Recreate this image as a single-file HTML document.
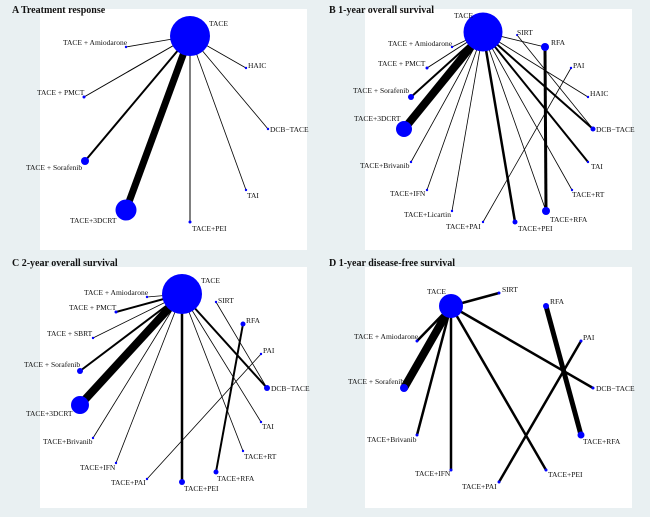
<!DOCTYPE html>
<html><head><meta charset="utf-8"><style>
html,body{margin:0;padding:0;background:#e9f0f2;}
svg{display:block}
text{font-family:"Liberation Serif",serif;font-size:7.5px;fill:#111}
.t{font-size:10px;font-weight:bold}
line{stroke:#000}
circle{fill:#0000ff}
</style></head><body>
<svg width="650" height="517" viewBox="0 0 650 517">
<rect width="650" height="517" fill="#e9f0f2"/>
<rect x="40" y="9" width="267" height="241" fill="#fff"/>
<rect x="365" y="9" width="267" height="241" fill="#fff"/>
<rect x="40" y="267" width="267" height="241" fill="#fff"/>
<rect x="365" y="267" width="267" height="241" fill="#fff"/>
<text class="t" x="12" y="13">A Treatment  response</text>
<text class="t" x="329" y="13">B 1-year overall survival</text>
<text class="t" x="12" y="266">C 2-year overall survival</text>
<text class="t" x="329" y="266">D 1-year disease-free survival</text>

<!-- A -->
<g>
<line x1="190" y1="36" x2="126" y2="47" stroke-width="0.8"/>
<line x1="190" y1="36" x2="84" y2="97" stroke-width="1"/>
<line x1="190" y1="36" x2="85" y2="161" stroke-width="2"/>
<line x1="190" y1="36" x2="126" y2="210" stroke-width="7"/>
<line x1="190" y1="36" x2="190" y2="222" stroke-width="1"/>
<line x1="190" y1="36" x2="246" y2="190" stroke-width="0.8"/>
<line x1="190" y1="36" x2="268" y2="129" stroke-width="0.8"/>
<line x1="190" y1="36" x2="246" y2="68" stroke-width="0.8"/>
<circle cx="190" cy="36" r="20"/>
<circle cx="126" cy="47" r="1.2"/><circle cx="84" cy="97" r="1.5"/>
<circle cx="85" cy="161" r="4"/><circle cx="126" cy="210" r="10.5"/>
<circle cx="190" cy="222" r="1.5"/><circle cx="246" cy="190" r="1.2"/>
<circle cx="268" cy="129" r="1.2"/><circle cx="246" cy="68" r="1.2"/>
<text x="209" y="26">TACE</text>
<text x="63" y="45">TACE + Amiodarone</text>
<text x="37" y="95">TACE + PMCT</text>
<text x="26" y="170">TACE + Sorafenib</text>
<text x="70" y="223">TACE+3DCRT</text>
<text x="192" y="231">TACE+PEI</text>
<text x="247" y="198">TAI</text>
<text x="270" y="132">DCB−TACE</text>
<text x="248" y="68">HAIC</text>
</g>

<!-- B -->
<g>
<line x1="483" y1="32" x2="452" y2="47" stroke-width="0.8"/>
<line x1="483" y1="32" x2="427" y2="68" stroke-width="1"/>
<line x1="483" y1="32" x2="411" y2="97" stroke-width="2"/>
<line x1="483" y1="32" x2="404" y2="129" stroke-width="8"/>
<line x1="483" y1="32" x2="411" y2="162" stroke-width="0.8"/>
<line x1="483" y1="32" x2="427" y2="190" stroke-width="0.8"/>
<line x1="483" y1="32" x2="452" y2="211" stroke-width="0.8"/>
<line x1="483" y1="32" x2="515" y2="222" stroke-width="2.5"/>
<line x1="483" y1="32" x2="546" y2="211" stroke-width="0.8"/>
<line x1="483" y1="32" x2="572" y2="190" stroke-width="0.8"/>
<line x1="483" y1="32" x2="588" y2="162" stroke-width="2"/>
<line x1="483" y1="32" x2="593" y2="129" stroke-width="2"/>
<line x1="483" y1="32" x2="588" y2="97" stroke-width="0.8"/>
<line x1="483" y1="32" x2="545" y2="47" stroke-width="0.8"/>
<line x1="545" y1="47" x2="546" y2="211" stroke-width="3"/>
<line x1="571" y1="68" x2="483" y2="222" stroke-width="0.8"/>
<line x1="517" y1="35" x2="593" y2="129" stroke-width="0.8"/>
<circle cx="483" cy="32" r="19.5"/>
<circle cx="517" cy="35" r="1"/><circle cx="545" cy="47" r="4"/>
<circle cx="571" cy="68" r="1.2"/><circle cx="588" cy="97" r="1.2"/>
<circle cx="593" cy="129" r="2.5"/><circle cx="588" cy="162" r="1.2"/>
<circle cx="572" cy="190" r="1.2"/><circle cx="546" cy="211" r="4"/>
<circle cx="515" cy="222" r="2.5"/><circle cx="483" cy="222" r="1.2"/>
<circle cx="452" cy="211" r="1.2"/><circle cx="427" cy="190" r="1.2"/>
<circle cx="411" cy="162" r="1.2"/><circle cx="404" cy="129" r="8"/>
<circle cx="411" cy="97" r="3"/><circle cx="427" cy="68" r="1.5"/>
<circle cx="452" cy="47" r="1.2"/>
<text x="454" y="18">TACE</text>
<text x="517" y="35">SIRT</text>
<text x="551" y="45">RFA</text>
<text x="573" y="68">PAI</text>
<text x="590" y="96">HAIC</text>
<text x="596" y="132">DCB−TACE</text>
<text x="591" y="169">TAI</text>
<text x="572" y="197">TACE+RT</text>
<text x="550" y="222">TACE+RFA</text>
<text x="518" y="231">TACE+PEI</text>
<text x="446" y="229">TACE+PAI</text>
<text x="404" y="217">TACE+Licartin</text>
<text x="390" y="196">TACE+IFN</text>
<text x="360" y="168">TACE+Brivanib</text>
<text x="354" y="121">TACE+3DCRT</text>
<text x="353" y="93">TACE + Sorafenib</text>
<text x="378" y="66">TACE + PMCT</text>
<text x="388" y="46">TACE + Amiodarone</text>
</g>

<!-- C -->
<g>
<line x1="182" y1="294" x2="147" y2="297" stroke-width="0.8"/>
<line x1="182" y1="294" x2="116" y2="312" stroke-width="2"/>
<line x1="182" y1="294" x2="93" y2="338" stroke-width="0.8"/>
<line x1="182" y1="294" x2="80" y2="371" stroke-width="2"/>
<line x1="182" y1="294" x2="80" y2="405" stroke-width="8"/>
<line x1="182" y1="294" x2="93" y2="438" stroke-width="0.8"/>
<line x1="182" y1="294" x2="116" y2="463" stroke-width="0.8"/>
<line x1="182" y1="294" x2="182" y2="482" stroke-width="2.5"/>
<line x1="182" y1="294" x2="243" y2="451" stroke-width="0.8"/>
<line x1="182" y1="294" x2="261" y2="422" stroke-width="0.8"/>
<line x1="182" y1="294" x2="267" y2="388" stroke-width="2"/>
<line x1="243" y1="324" x2="216" y2="472" stroke-width="2"/>
<line x1="261" y1="354" x2="147" y2="479" stroke-width="0.8"/>
<line x1="216" y1="302" x2="267" y2="388" stroke-width="0.8"/>
<circle cx="182" cy="294" r="20"/>
<circle cx="147" cy="297" r="1.2"/><circle cx="116" cy="312" r="1.5"/>
<circle cx="93" cy="338" r="1.2"/><circle cx="80" cy="371" r="3"/>
<circle cx="80" cy="405" r="9"/><circle cx="93" cy="438" r="1.2"/>
<circle cx="116" cy="463" r="1.2"/><circle cx="147" cy="479" r="1.2"/>
<circle cx="182" cy="482" r="3"/><circle cx="216" cy="472" r="2.5"/>
<circle cx="243" cy="451" r="1.2"/><circle cx="261" cy="422" r="1.2"/>
<circle cx="267" cy="388" r="3"/><circle cx="261" cy="354" r="1.2"/>
<circle cx="243" cy="324" r="2.5"/><circle cx="216" cy="302" r="1.2"/>
<text x="201" y="283">TACE</text>
<text x="84" y="295">TACE + Amiodarone</text>
<text x="69" y="310">TACE + PMCT</text>
<text x="47" y="336">TACE + SBRT</text>
<text x="24" y="367">TACE + Sorafenib</text>
<text x="26" y="416">TACE+3DCRT</text>
<text x="43" y="444">TACE+Brivanib</text>
<text x="80" y="470">TACE+IFN</text>
<text x="111" y="485">TACE+PAI</text>
<text x="184" y="491">TACE+PEI</text>
<text x="217" y="481">TACE+RFA</text>
<text x="244" y="459">TACE+RT</text>
<text x="262" y="429">TAI</text>
<text x="271" y="391">DCB−TACE</text>
<text x="263" y="353">PAI</text>
<text x="246" y="323">RFA</text>
<text x="218" y="303">SIRT</text>
</g>

<!-- D -->
<g>
<line x1="451" y1="306" x2="499" y2="293" stroke-width="2.5"/>
<line x1="451" y1="306" x2="417" y2="341" stroke-width="2.5"/>
<line x1="451" y1="306" x2="404" y2="388" stroke-width="8"/>
<line x1="451" y1="306" x2="417" y2="435" stroke-width="2.5"/>
<line x1="451" y1="306" x2="451" y2="470" stroke-width="2.5"/>
<line x1="451" y1="306" x2="546" y2="470" stroke-width="2.5"/>
<line x1="451" y1="306" x2="593" y2="388" stroke-width="2.5"/>
<line x1="546" y1="306" x2="581" y2="435" stroke-width="5"/>
<line x1="581" y1="341" x2="499" y2="482" stroke-width="2.5"/>
<circle cx="451" cy="306" r="12"/>
<circle cx="499" cy="293" r="1.5"/><circle cx="546" cy="306" r="3"/>
<circle cx="581" cy="341" r="1.5"/><circle cx="593" cy="388" r="1.5"/>
<circle cx="581" cy="435" r="3.5"/><circle cx="546" cy="470" r="1.5"/>
<circle cx="499" cy="482" r="1.5"/><circle cx="451" cy="470" r="1.5"/>
<circle cx="417" cy="435" r="1.5"/><circle cx="404" cy="388" r="4"/>
<circle cx="417" cy="341" r="1.5"/>
<text x="427" y="294">TACE</text>
<text x="502" y="292">SIRT</text>
<text x="550" y="304">RFA</text>
<text x="583" y="340">PAI</text>
<text x="596" y="391">DCB−TACE</text>
<text x="583" y="444">TACE+RFA</text>
<text x="548" y="477">TACE+PEI</text>
<text x="462" y="489">TACE+PAI</text>
<text x="415" y="476">TACE+IFN</text>
<text x="367" y="442">TACE+Brivanib</text>
<text x="348" y="384">TACE + Sorafenib</text>
<text x="354" y="339">TACE + Amiodarone</text>
</g>
</svg>
</body></html>
